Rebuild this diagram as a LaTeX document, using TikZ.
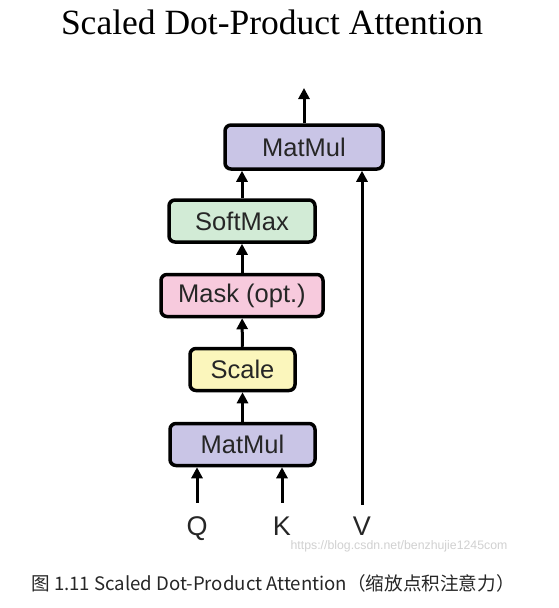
\documentclass[tikz,border=0pt]{standalone}
\usepackage{fontspec}
\setmainfont{Liberation Serif}
\setsansfont{Liberation Sans}
\newfontfamily\cjkfont{Noto Sans CJK SC}
\usetikzlibrary{arrows.meta}

\definecolor{matmulfill}{HTML}{C9C5E6}
\definecolor{softmaxfill}{HTML}{D2EBD6}
\definecolor{maskfill}{HTML}{F7CADD}
\definecolor{scalefill}{HTML}{FBF6BC}

\tikzset{
  opbox/.style={draw=black,line width=3.5pt,rounded corners=6pt,
    minimum height=42pt,inner sep=0pt,text=black!85,
    font=\sffamily\fontsize{25.5}{25.5}\selectfont},
  flow/.style={line width=3pt,-{Triangle[width=11pt,length=11pt]}},
  qkv/.style={anchor=base,inner sep=0pt,text height=18pt,text depth=0pt,
    text=black!85,font=\sffamily\fontsize{27}{27}\selectfont},
}

\begin{document}
\begin{tikzpicture}[x=1pt,y=-1pt]
  \fill[white] (0,0) rectangle (559,608);
  \useasboundingbox (0,0) rectangle (559,608);

  \node[font=\rmfamily\fontsize{35.5}{35.5}\selectfont] (title) at (272,22)
    {Scaled Dot-Product Attention};

  % the boxes
  \node[opbox,fill=matmulfill,minimum width=158pt,minimum height=44pt]
    (mmtop) at (304,147) {MatMul};
  \node[opbox,fill=softmaxfill,minimum width=146pt] (softmax) at (242,221) {SoftMax};
  \node[opbox,fill=maskfill,minimum width=162pt] (mask) at (242,295.5) {Mask (opt.)};
  \node[opbox,fill=scalefill,minimum width=105pt] (scale) at (242.5,369.5) {Scale};
  \node[opbox,fill=matmulfill,minimum width=145pt] (mmlow) at (242.5,444.5) {MatMul};

  \node[qkv] (q) at (197,535) {Q};
  \node[qkv] (k) at (282,535) {K};
  \node[qkv] (v) at (362,535) {V};
  \coordinate (out) at (304,88);

  \draw[flow] (mmtop) -- (out);
  \draw[flow] (softmax.north) -- (softmax.north |- mmtop.south);
  \draw[flow] (mask) -- (softmax);
  \draw[flow] (scale) -- (mask);
  \draw[flow] (mmlow) -- (scale);
  \draw[flow] ([yshift=14pt]q.north) -- (q.north |- mmlow.south);
  \draw[flow] ([yshift=14pt]k.north) -- (k.north |- mmlow.south);
  \draw[flow] ([yshift=12pt]v.north) -- (v.north |- mmtop.south);

  \node[text=black!18,font=\sffamily\fontsize{12.3}{12.3}\selectfont] (mark) at (399,546)
    {https://blog.csdn.net/benzhujie1245com};
  \node[font=\cjkfont\fontsize{18.6}{18.6}\selectfont,text=black!85] (caption) at (273,583)
    {图\ 1.11 Scaled Dot-Product Attention（缩放点积注意力）};
\end{tikzpicture}
\end{document}
